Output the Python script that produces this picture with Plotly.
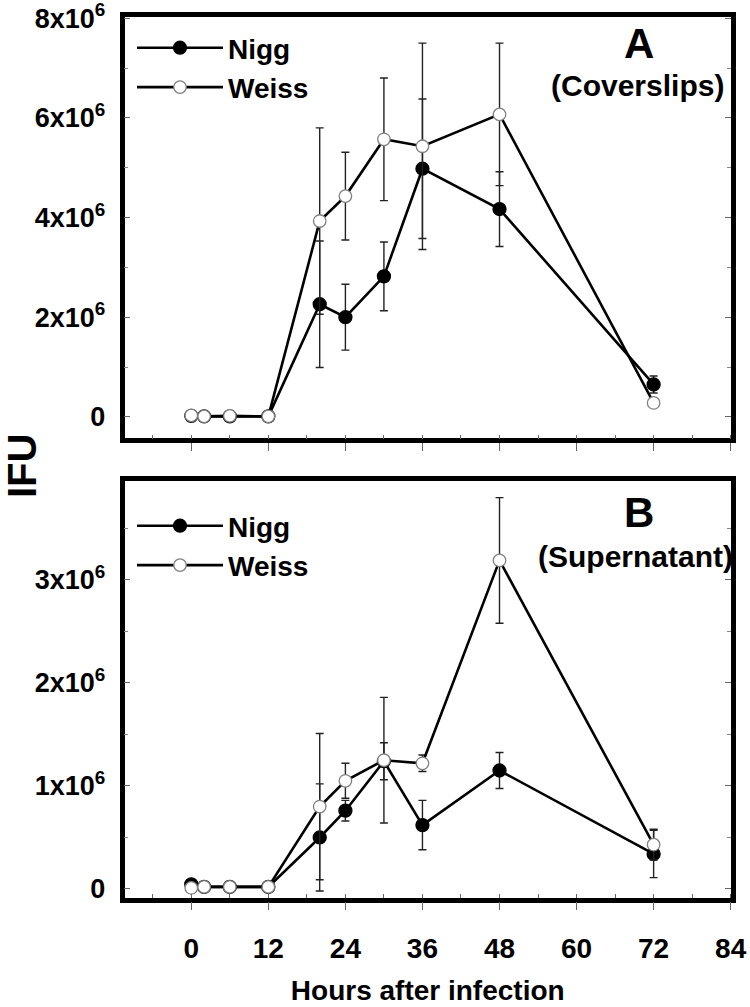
import plotly.graph_objects as go

# ---------------- data ----------------
hours = [0, 2, 6, 12, 20, 24, 30, 36, 48, 72]

# Panel A (Coverslips)
a_nigg = [0.02e6, 0.01e6, 0.01e6, 0.01e6, 2.26e6, 2.00e6, 2.82e6, 4.98e6, 4.17e6, 0.65e6]
a_nigg_err = [0, 0, 0, 0, 1.27e6, 0.66e6, 0.69e6, 1.40e6, 0.75e6, 0.17e6]
a_weiss = [0.03e6, 0.01e6, 0.02e6, 0.01e6, 3.93e6, 4.43e6, 5.57e6, 5.43e6, 6.07e6, 0.28e6]
a_weiss_err = [0, 0, 0, 0, 1.87e6, 0.88e6, 1.23e6, 2.07e6, 1.43e6, 0.05e6]

# Panel B (Supernatant)
b_nigg = [0.045e6, 0.02e6, 0.02e6, 0.02e6, 0.50e6, 0.76e6, 1.24e6, 0.62e6, 1.15e6, 0.34e6]
b_nigg_err = [0, 0, 0, 0, 0.52e6, 0.10e6, 0.18e6, 0.24e6, 0.175e6, 0.23e6]
b_weiss = [0.01e6, 0.02e6, 0.02e6, 0.02e6, 0.80e6, 1.05e6, 1.25e6, 1.22e6, 3.19e6, 0.43e6]
b_weiss_err = [0, 0, 0, 0, 0.71e6, 0.17e6, 0.61e6, 0.08e6, 0.61e6, 0.15e6]

x_ticks = [0, 12, 24, 36, 48, 60, 72, 84]
a_yticks = [0, 2e6, 4e6, 6e6, 8e6]
a_yticktext = ["0", "2x10<sup>6</sup>", "4x10<sup>6</sup>", "6x10<sup>6</sup>", "8x10<sup>6</sup>"]
b_yticks = [0, 1e6, 2e6, 3e6]
b_yticktext = ["0", "1x10<sup>6</sup>", "2x10<sup>6</sup>", "3x10<sup>6</sup>"]

# ---------------- figure ----------------
W, H = 750, 1007
FONT = "Arial, Liberation Sans, sans-serif"

def fx(px):
    return px / W

def fy(py):
    return 1 - py / H

fig = go.Figure()

def add_series(x, y, err, name, filled, xa, ya, legend):
    fig.add_trace(go.Scatter(
        x=x, y=y, name=name, mode="lines+markers",
        xaxis=xa, yaxis=ya, legend=legend,
        line=dict(color="black", width=2.6),
        marker=dict(
            symbol="circle",
            size=13 if filled else 12.5,
            color="black" if filled else "white",
            line=dict(color="black" if filled else "#808080", width=1.3),
        ),
        error_y=dict(type="data", array=err, visible=True,
                     color="#222222", thickness=1.4, width=4),
        cliponaxis=False,
    ))

add_series(hours, a_nigg, a_nigg_err, "Nigg", True, "x", "y", "legend")
add_series(hours, a_weiss, a_weiss_err, "Weiss", False, "x", "y", "legend")
add_series(hours, b_nigg, b_nigg_err, "Nigg", True, "x2", "y2", "legend2")
add_series(hours, b_weiss, b_weiss_err, "Weiss", False, "x2", "y2", "legend2")

x_dom = [fx(124.5), fx(731)]
a_dom = [fy(438.3), fy(16.7)]
b_dom = [fy(897.5), fy(480.7)]

def xaxis_cfg(show_labels, anchor):
    return dict(
        domain=x_dom, anchor=anchor, range=[-10.4, 84.05], automargin=False,
        tickmode="array", tickvals=x_ticks, ticktext=[str(v) for v in x_ticks],
        showticklabels=show_labels,
        ticks="outside", ticklen=8, tickwidth=1, tickcolor="#666666",
        minor=dict(dtick=6, tick0=0, ticks="inside", ticklen=4, tickwidth=1, tickcolor="#666666"),
        showline=True, linewidth=4.5, linecolor="black", mirror=True,
        showgrid=False, zeroline=False,
        tickfont=dict(family=FONT, size=28, color="black", weight="bold"),
        ticklabelstandoff=14, ticklabeloverflow="allow",
    )

def yaxis_cfg(dom, rng, tv, tt, minor_dt, anchor):
    return dict(
        domain=dom, anchor=anchor, range=rng, automargin=False,
        tickmode="array", tickvals=tv, ticktext=tt,
        ticks="inside", ticklen=6, tickwidth=1, tickcolor="#666666",
        minor=dict(dtick=minor_dt, tick0=0, ticks="inside", ticklen=4, tickwidth=1, tickcolor="#888888"),
        showline=True, linewidth=4.5, linecolor="black", mirror="ticks",
        showgrid=False, zeroline=False,
        tickfont=dict(family=FONT, size=27, color="black", weight="bold"),
        ticklabelstandoff=9, ticklabeloverflow="allow",
    )

legend_font = dict(family=FONT, size=28, color="black", weight="bold")
fig.update_layout(
    width=W, height=H,
    margin=dict(l=0, r=0, t=0, b=0, autoexpand=False),
    paper_bgcolor="white", plot_bgcolor="white",
    font=dict(family=FONT, color="black"),
    xaxis=xaxis_cfg(False, "y"),
    yaxis=yaxis_cfg(a_dom, [-0.43e6, 8.03e6], a_yticks, a_yticktext, 1e6, "x"),
    xaxis2=xaxis_cfg(True, "y2"),
    yaxis2=yaxis_cfg(b_dom, [-0.083e6, 3.964e6], b_yticks, b_yticktext, 0.5e6, "x2"),
    legend=dict(x=fx(132), y=fy(23), xanchor="left", yanchor="top",
                bgcolor="rgba(0,0,0,0)", borderwidth=0, itemwidth=86, font=legend_font),
    legend2=dict(x=fx(132), y=fy(501), xanchor="left", yanchor="top",
                 bgcolor="rgba(0,0,0,0)", borderwidth=0, itemwidth=86, font=legend_font),
    showlegend=True,
)
fig.layout.xaxis2.title = dict(text="Hours after infection", standoff=19,
                               font=dict(family=FONT, size=28, color="black", weight="bold"))

ann_font_big = dict(family=FONT, size=42, color="black", weight="bold")
ann_font = dict(family=FONT, size=30, color="black", weight="bold")
common = dict(xref="paper", yref="paper", showarrow=False, xanchor="center", yanchor="middle")
fig.add_annotation(text="A", x=fx(639), y=fy(43), font=ann_font_big, **common)
fig.add_annotation(text="(Coverslips)", x=fx(637), y=fy(86), font=ann_font, **common)
fig.add_annotation(text="B", x=fx(639), y=fy(512), font=ann_font_big, **common)
fig.add_annotation(text="(Supernatant)", x=fx(635), y=fy(556), font=ann_font, **common)
fig.add_annotation(text="IFU", x=fx(22), y=fy(466), textangle=-90,
                   font=dict(family=FONT, size=40, color="black", weight="bold"), **common)

# remove the browser's default 8px body margin so the figure fills the window
fig.write_html("out.html", config={"displayModeBar": False},
               post_script="document.body.style.margin='0px';")
